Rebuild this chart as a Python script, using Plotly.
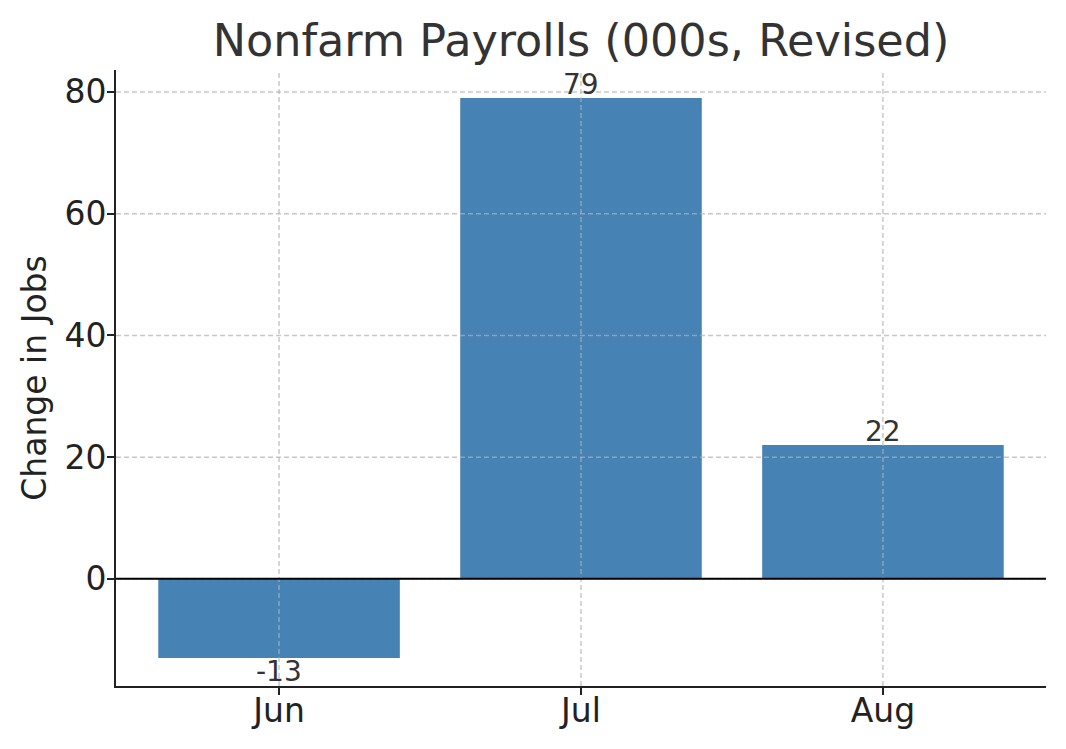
import plotly.graph_objects as go

months = ["Jun", "Jul", "Aug"]
payrolls = [-13, 79, 22]
y_ticks = [0, 20, 40, 60, 80]

font = "DejaVu Sans"
x_range = [-0.54, 2.54]
y_range = [-17.6, 83.6]
x_pos = list(range(len(months)))
grid_line = dict(color="rgba(176,176,176,0.7)", width=1.5, dash="5px,3px")

fig = go.Figure()
fig.add_trace(go.Bar(
    x=x_pos,
    y=payrolls,
    width=0.8,
    marker=dict(color="#4682b4", line=dict(width=0)),
    cliponaxis=False,
))

# dashed grid drawn on top of the bars, like matplotlib does here
for xv in x_pos:
    fig.add_shape(type="line", xref="x", yref="y domain", x0=xv, x1=xv, y0=0, y1=1,
                  line=grid_line, layer="above")
for yv in y_ticks:
    fig.add_shape(type="line", xref="x domain", yref="y", x0=0, x1=1, y0=yv, y1=yv,
                  line=grid_line, layer="above")
# zero baseline
fig.add_shape(type="line", xref="x domain", yref="y", x0=0, x1=1, y0=0, y1=0,
              line=dict(color="#000000", width=2), layer="above")

# value labels, above positive bars and below negative ones
for i, v in enumerate(payrolls):
    fig.add_annotation(
        x=i, y=v, text=str(v), showarrow=False,
        yanchor="bottom" if v >= 0 else "top",
        yshift=-5 if v >= 0 else 5,
        font=dict(family=font, size=28, color="#333333"),
    )

fig.update_layout(
    width=1066, height=749,
    margin=dict(l=108, r=28, t=62, b=71),
    paper_bgcolor="white", plot_bgcolor="white",
    showlegend=False,
    title=dict(text="Nonfarm Payrolls (000s, Revised)", x=0.5, xanchor="center",
               y=0.957, yanchor="middle", xref="paper",
               font=dict(family=font, size=44.5, color="#333333")),
    xaxis=dict(
        range=x_range,
        tickmode="array", tickvals=x_pos, ticktext=months,
        showgrid=False,
        showline=True, linecolor="#222222", linewidth=2, mirror=False,
        ticks="outside", ticklen=7, tickwidth=2, tickcolor="#222222",
        tickfont=dict(family=font, size=33, color="#222222"),
        ticklabelstandoff=-13,
        zeroline=False, layer="above traces",
    ),
    yaxis=dict(
        range=y_range,
        tickmode="array", tickvals=y_ticks,
        showgrid=False,
        showline=True, linecolor="#222222", linewidth=2, mirror=False,
        ticks="outside", ticklen=7, tickwidth=2, tickcolor="#222222",
        tickfont=dict(family=font, size=33, color="#222222"),
        ticklabelstandoff=-6,
        zeroline=False,
        title=dict(text="Change in Jobs", font=dict(family=font, size=33, color="#222222"), standoff=8),
        layer="above traces",
    ),
)

fig.write_html("out.html")
